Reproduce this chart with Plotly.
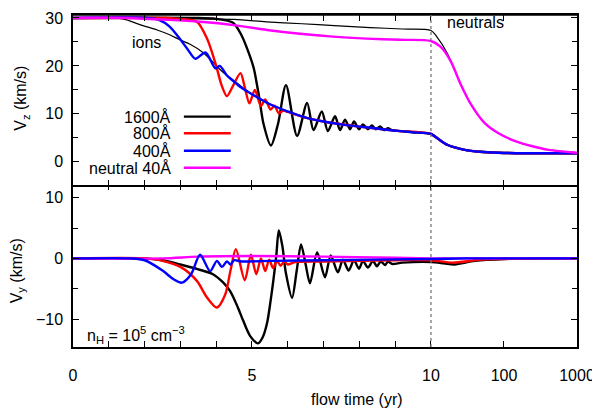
import numpy as np
import plotly.graph_objects as go

# x axis: linear in years up to 10, then logarithmic (one decade = 2.04 linear units)
DECADE = 2.04


def to_u(t):
    t = np.asarray(t, dtype=float)
    return np.where(t <= 10, t, 10 + DECADE * np.log10(np.maximum(t, 10) / 10))


tick_years = [0, 5, 10, 100, 1000]
tick_text = ["0", "5", "10", "100", "1000"]
minor_years = [1, 2, 3, 4, 6, 7, 8, 9]

# ---- top panel: V_z (km/s) ----
vz_ions_t = [0, 1.2, 1.5, 1.87, 2.35, 2.7, 3.0, 3.27, 3.63, 3.91, 4.1, 4.3, 4.5, 5.0, 6.0, 7.0, 8.0, 9.0, 10,
             12, 17, 29, 47, 85, 200, 1000]
vz_ions = [30, 30, 29.6, 28.6, 27.5, 26.5, 25.4, 24.5, 22.8, 20.8, 19.3, 18.0, 16.9, 14.1, 10.5, 8.4, 7.35, 6.5, 5.8,
           5.0, 3.5, 2.5, 2.1, 1.9, 1.8, 1.8]

vz_neut_thin_t = [0, 1.5, 3.0, 4.5, 5.4, 6.4, 7.3, 8.3, 9.2, 10, 12, 16.8, 25.5, 35, 55, 83, 143, 237, 407, 1000]
vz_neut_thin = [30, 30, 29.9, 29.7, 29.2, 28.8, 28.4, 28.0, 27.7, 27.4, 26.1, 22.6, 16.2, 12.1, 8.0, 6.0, 4.3, 3.3,
                2.5, 1.9]

vz_1600_t = [0, 3.4, 4.0, 4.47, 4.7, 4.94, 5.05, 5.2, 5.32, 5.53, 5.73, 5.95, 6.26, 6.54, 6.72, 6.95, 7.12, 7.32,
             7.46, 7.6, 7.74, 7.85, 7.99, 8.1, 8.24, 8.35, 8.46, 8.58, 8.69, 8.8, 8.91, 9.1, 9.5, 10,
             12, 17, 29, 47, 85, 200, 1000]
vz_1600 = [30, 30, 29.8, 29.0, 26.5, 22.1, 19.5, 13.5, 8.0, 3.4, 8.0, 16.0, 5.4, 12.3, 6.6, 10.5, 6.4, 9.5,
           6.6, 8.8, 6.8, 8.4, 6.8, 7.8, 6.8, 7.6, 6.8, 7.4, 6.6, 7.0, 6.6, 6.45, 6.15, 5.8,
           5.0, 3.5, 2.5, 2.1, 1.9, 1.8, 1.8]

vz_800_t = [0, 2.6, 3.0, 3.46, 3.75, 4.0, 4.15, 4.3, 4.48, 4.68, 4.8, 4.93, 5.08, 5.25, 5.37, 5.52, 5.63, 5.75,
            5.88, 6.0, 6.5, 7.0, 8.0, 9.0, 10, 12, 17, 29, 47, 85, 200, 1000]
vz_800 = [30, 30, 29.8, 29.2, 25.6, 20.0, 16.0, 13.7, 16.0, 18.5, 15.5, 12.2, 15.0, 11.6, 13.0, 10.9, 11.7, 10.1,
          10.7, 10.4, 9.2, 8.4, 7.35, 6.5, 5.8, 5.0, 3.5, 2.5, 2.1, 1.9, 1.8, 1.8]

vz_400_t = [0, 2.1, 2.4, 2.7, 3.0, 3.2, 3.42, 3.7, 3.98, 4.1, 4.3, 4.47, 4.7, 5.0, 5.5, 6.0, 6.5, 7.0, 7.5, 8.0,
            8.5, 9.0, 9.5, 10, 12, 17, 29, 47, 85, 200, 1000]
vz_400 = [30, 30, 29.6, 28.2, 25.5, 23.5, 21.5, 22.8, 19.5, 20.0, 18.0, 16.9, 15.5, 14.1, 12.0, 10.5, 9.2, 8.4,
          7.8, 7.35, 6.95, 6.5, 6.15, 5.8, 5.0, 3.5, 2.5, 2.1, 1.9, 1.8, 1.8]

vz_n40_t = [0, 1.5, 2.7, 3.55, 4.5, 5.42, 6.34, 7.26, 8.2, 9.13, 10, 13.5, 18.6, 25.5, 35, 55, 83, 143, 237, 407,
            1000]
vz_n40 = [30, 30, 29.6, 29.2, 28.5, 27.5, 26.7, 26.1, 25.7, 25.45, 25.2, 24.0, 21.0, 16.2, 12.1, 8.0, 6.0, 4.3,
          3.3, 2.5, 1.9]

# ---- bottom panel: V_y (km/s) ----
vy_1600_t = [0, 2.0, 2.5, 3.0, 3.5, 3.91, 4.2, 4.39, 4.6, 4.75, 4.95, 5.17, 5.3, 5.42, 5.52, 5.6, 5.68, 5.75,
             5.85, 5.95, 6.12, 6.25, 6.37, 6.5, 6.62, 6.82, 7.04, 7.2, 7.4, 7.54, 7.7, 7.85, 7.99, 8.1, 8.24,
             8.38, 8.49, 8.6, 8.72, 8.8, 8.91, 9.2, 10, 15, 21, 40, 100, 1000]
vy_1600 = [0, 0, -0.3, -1.0, -1.8, -2.6, -4.0, -5.4, -8.0, -10.2, -12.8, -14.0, -13.0, -10.7, -7.0, -3.5, 0.5,
           4.6, 2.0, -2.5, -6.5, -2.0, 2.3, -1.0, -4.1, 1.0, -3.1, 0.5, -2.3, -0.2, -2.0, -0.3, -1.7, -0.4,
           -1.5, -0.4, -1.3, -0.5, -1.1, -0.5, -0.9, -0.7, -0.6, -0.8, -1.0, -0.4, -0.1, 0]

vy_800_t = [0, 2.0, 2.5, 3.0, 3.46, 3.75, 4.02, 4.25, 4.4, 4.55, 4.8, 4.97, 5.12, 5.25, 5.37, 5.48, 5.59, 5.7,
            5.8, 5.9, 6.0, 6.2, 7.0, 9.0, 10, 20, 50, 1000]
vy_800 = [0, 0, -0.4, -1.4, -3.7, -6.5, -8.1, -6.0, -2.0, 1.5, -3.6, 0.6, -2.6, 0.0, -2.1, -0.2, -1.6, -0.4,
          -1.2, -0.5, -1.0, -0.6, -0.5, -0.3, -0.3, -0.7, -0.2, 0]

vy_400_t = [0, 1.6, 2.0, 2.5, 2.8, 3.04, 3.3, 3.55, 3.83, 4.02, 4.16, 4.3, 4.4, 4.5, 4.7, 5.5, 7.0, 10, 30, 1000]
vy_400 = [0, 0, -0.3, -2.0, -3.4, -4.0, -2.6, 0.6, -2.1, -0.4, -1.4, -0.5, -1.0, -0.3, -0.5, -0.4, -0.3, -0.1, 0, 0]

vy_n40_t = [0, 2.5, 3.5, 5.0, 7.0, 9.0, 10, 1000]
vy_n40 = [0, 0, 0.3, 0.4, 0.3, 0.1, 0, 0]

legend_labels = ["1600Å", "800Å", "400Å", "neutral 40Å"]
legend_colors = ["#000000", "#ff0000", "#0000ff", "#ff00ff"]

FONT = "Liberation Sans, Arial, Helvetica, sans-serif"
FS = 16
SPLIT = 0.4866
XMAX = 10 + 2 * DECADE

fig = go.Figure()


def add(t, v, color, width, axis):
    xa, ya = ("x2", "y") if axis == "top" else ("x", "y2")
    fig.add_trace(go.Scatter(x=to_u(t), y=v, mode="lines", xaxis=xa, yaxis=ya, showlegend=False,
                             line=dict(color=color, width=width, shape="spline", smoothing=0.8),
                             hoverinfo="skip"))


# top panel (thin lines underneath)
add(vz_ions_t, vz_ions, "#000000", 1.2, "top")
add(vz_neut_thin_t, vz_neut_thin, "#000000", 1.2, "top")
add(vz_1600_t, vz_1600, "#000000", 2.4, "top")
add(vz_800_t, vz_800, "#ff0000", 2.4, "top")
add(vz_400_t, vz_400, "#0000ff", 2.4, "top")
add(vz_n40_t, vz_n40, "#ff00ff", 2.4, "top")

# bottom panel
add(vy_1600_t, vy_1600, "#000000", 2.4, "bottom")
add(vy_800_t, vy_800, "#ff0000", 2.4, "bottom")
add(vy_n40_t, vy_n40, "#ff00ff", 2.4, "bottom")
add(vy_400_t, vy_400, "#0000ff", 2.4, "bottom")

# labelled ticks plus unlabelled ones at every whole year
xt_vals = list(to_u(tick_years)) + list(to_u(minor_years))
xt_text = tick_text + [""] * len(minor_years)

xcommon = dict(range=[0, XMAX], tickmode="array", tickvals=xt_vals, ticktext=xt_text,
               ticks="inside", ticklen=6, tickwidth=1.2, tickcolor="black",
               showline=True, linecolor="black", linewidth=1.5, mirror="ticks", showgrid=False,
               zeroline=False, tickfont=dict(size=FS, color="black", family=FONT))

ycommon = dict(ticks="inside", ticklen=6, tickwidth=1.2, tickcolor="black", showline=True,
               linecolor="black", linewidth=1.5, mirror="ticks", showgrid=False, zeroline=False,
               tickfont=dict(size=FS, color="black", family=FONT), ticklabelstandoff=5,
               ticklabeloverflow="allow",
               minor=dict(dtick=5, ticks="inside", ticklen=5, tickwidth=1.2, tickcolor="black"))

fig.update_layout(
    width=600, height=410,
    margin=dict(l=65, r=31, t=2, b=71),
    plot_bgcolor="white", paper_bgcolor="white",
    font=dict(family=FONT, size=FS, color="black"),
    xaxis=dict(**xcommon, anchor="y2", ticklabelstandoff=13),
    xaxis2=dict(**xcommon, anchor="y", showticklabels=False),
    yaxis=dict(**ycommon, domain=[SPLIT, 1], range=[-4.93, 30.62], tick0=0, dtick=10, anchor="x2"),
    yaxis2=dict(**ycommon, domain=[0, SPLIT + 0.005], range=[-14.6, 12.3], tick0=0, dtick=10, anchor="x"),
)

# top edge of the frame, kept inside the page
fig.add_shape(type="line", xref="paper", yref="paper", x0=0, x1=1, y0=1, y1=1,
              line=dict(color="black", width=1.5))

# dotted line where the time axis switches to logarithmic
fig.add_shape(type="line", xref="x", yref="paper", x0=10, x1=10, y0=0, y1=1,
              line=dict(color="#777777", width=1.3, dash="dot"))


def note(text, x, y, xanchor="center", angle=0):
    fig.add_annotation(text=text, xref="paper", yref="paper", x=x, y=y, xanchor=xanchor,
                       yanchor="middle", textangle=angle, showarrow=False, font=dict(size=FS))


# legend drawn by hand: label on the left, line sample on the right
legend_y = [0.694, 0.644, 0.591, 0.540]
for label, color, ly in zip(legend_labels, legend_colors, legend_y):
    note(label, 0.198, ly, xanchor="right")
    fig.add_shape(type="line", xref="paper", yref="paper", x0=0.220, x1=0.313, y0=ly, y1=ly,
                  line=dict(color=color, width=2.4))

note("ions", 0.1468, 0.918)
note("neutrals", 0.7996, 0.976)
note("n<sub>H</sub> = 10<sup>5</sup> cm<sup>−3</sup>", 0.024, 0.036, xanchor="left")
note("V<sub>z</sub> (km/s)", -0.101, 0.748, angle=-90)
note("V<sub>y</sub> (km/s)", -0.111, 0.228, angle=-90)
note("flow time (yr)", 0.5635, -0.157)

fig.write_html("out.html")
